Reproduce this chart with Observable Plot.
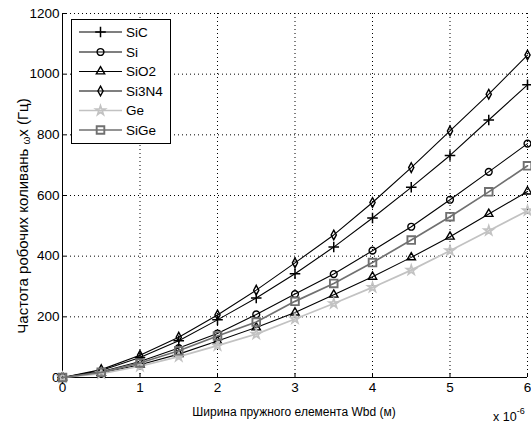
<!DOCTYPE html>
<html><head><meta charset="utf-8">
<script src="https://cdn.jsdelivr.net/npm/d3@7"></script>
<script src="https://cdn.jsdelivr.net/npm/@observablehq/plot@0.6"></script>
<style>body{margin:0;background:#fff} svg{display:block;font-family:"Liberation Sans",Arial,sans-serif}</style>
</head><body><div id="chart"></div>
<script>
// Data (x in units of 1e-6 m)
const widthX = [0, 0.5, 1, 1.5, 2, 2.5, 3, 3.5, 4, 4.5, 5, 5.5, 6];
const freqSiC   = [0, 23, 66, 121, 190, 262, 342, 430, 526, 627, 732, 849, 965];
const freqSi    = [0, 19, 53, 97, 145, 208, 275, 341, 418, 497, 586, 678, 771];
const freqSiO2  = [0, 15, 42, 77, 120, 165, 214, 273, 332, 396, 464, 539, 613];
const freqSi3N4 = [0, 26, 73, 133, 206, 288, 378, 470, 577, 692, 813, 934, 1063];
const freqGe    = [0, 13, 37, 69, 105, 143, 193, 244, 297, 354, 418, 484, 550];
const freqSiGe  = [0, 17, 48, 88, 137, 183, 251, 310, 379, 453, 530, 612, 698];
const seriesNames = ["SiC", "Si", "SiO2", "Si3N4", "Ge", "SiGe"];
const xTicks = [0, 1, 2, 3, 4, 5, 6];
const yTicks = [0, 200, 400, 600, 800, 1000, 1200];
const xTitle = "Ширина пружного елемента Wbd (м)";
const yTitleA = "Частота робочих коливань ";
const yTitleSub = "ω";
const yTitleB = "х (Гц)";

const tallDiamond = {
  draw(ctx, size) {
    const r = Math.sqrt(size / Math.PI);
    const w = r * 0.62, h = r * 1.15;
    ctx.moveTo(0, -h); ctx.lineTo(w, 0); ctx.lineTo(0, h); ctx.lineTo(-w, 0); ctx.closePath();
  }
};

const values = [freqSiC, freqSi, freqSiO2, freqSi3N4, freqGe, freqSiGe];
const styles = [
  {color: "#000", symbol: "plus", r: 3.5, lw: 1.1, mw: 1.5},
  {color: "#000", symbol: "circle", r: 3.4, lw: 1.1, mw: 1.4},
  {color: "#000", symbol: "triangle", r: 3.1, lw: 1.1, mw: 1.4},
  {color: "#000", symbol: tallDiamond, r: 4.2, lw: 1.1, mw: 1.4},
  {color: "#c2c2c2", symbol: "star", r: 2.9, lw: 1.7, mw: 1.7},
  {color: "#707070", symbol: "square", r: 4.3, lw: 1.7, mw: 1.9}
];

const marks = [
  Plot.ruleX(xTicks, {stroke: "#000", strokeDasharray: "1,3", strokeWidth: 1}),
  Plot.ruleY(yTicks, {stroke: "#000", strokeDasharray: "1,3", strokeWidth: 1}),
  Plot.ruleX([0], {stroke: "#000", strokeWidth: 1}),
  Plot.ruleY([0], {stroke: "#000", strokeWidth: 1}),
  Plot.axisX(xTicks, {tickSize: -4, tickPadding: 9, fontSize: 13.5, label: null, stroke: "#000", tickFormat: d => String(d)}),
  Plot.axisY(yTicks, {tickSize: -4, tickPadding: 7, fontSize: 13.5, label: null, stroke: "#000", tickFormat: d => String(d)})
];
seriesNames.forEach((name, i) => {
  const rows = widthX.map((x, j) => ({x, y: values[i][j], name}));
  const s = styles[i];
  marks.push(Plot.line(rows, {x: "x", y: "y", stroke: s.color, strokeWidth: s.lw}));
  marks.push(Plot.dot(rows, {x: "x", y: "y", symbol: () => s.symbol, r: s.r, stroke: s.color, strokeWidth: s.mw, fill: "none"}));
});

const chart = Plot.plot({
  width: 531, height: 423,
  marginLeft: 62, marginRight: 4, marginTop: 13, marginBottom: 46,
  style: {fontFamily: "Liberation Sans, Arial, sans-serif", color: "#000", background: "#fff"},
  x: {domain: [0, 6]},
  y: {domain: [0, 1200]},
  symbol: {type: "identity"},
  marks
});
document.getElementById("chart").append(chart);

const svg = d3.select(chart);
// Axis titles
svg.append("text").attr("x", 294).attr("y", 416).attr("text-anchor", "middle")
  .attr("font-size", 12).attr("fill", "#000").text(xTitle);
const exp = svg.append("text").attr("x", 493).attr("y", 421).attr("text-anchor", "start")
  .attr("font-size", 12.5).attr("fill", "#000");
exp.append("tspan").text("x 10");
exp.append("tspan").attr("dy", -7).attr("font-size", 9).text("-6");
const yt = svg.append("text").attr("transform", "translate(28,216) rotate(-90)")
  .attr("text-anchor", "middle").attr("font-size", 15).attr("fill", "#000");
yt.append("tspan").text(yTitleA);
yt.append("tspan").attr("font-size", 10).attr("dy", 2).text(yTitleSub);
yt.append("tspan").attr("dy", -2).text(yTitleB);

// Legend
const lg = svg.append("g");
lg.append("rect").attr("x", 71.5).attr("y", 19.5).attr("width", 99).attr("height", 124)
  .attr("fill", "#fff").attr("stroke", "#000").attr("stroke-width", 1);
const rowY = [32, 52, 71.5, 91, 110.5, 130];
const symMap = {plus: d3.symbolPlus, circle: d3.symbolCircle, triangle: d3.symbolTriangle, star: d3.symbolStar, square: d3.symbolSquare};
seriesNames.forEach((name, i) => {
  const s = styles[i], y = rowY[i];
  lg.append("line").attr("x1", 79).attr("x2", 122).attr("y1", y).attr("y2", y)
    .attr("stroke", s.color).attr("stroke-width", s.lw);
  const sym = typeof s.symbol === "string" ? symMap[s.symbol] : s.symbol;
  lg.append("path").attr("transform", `translate(100.5,${y})`)
    .attr("d", d3.symbol(sym, s.r * s.r * Math.PI)())
    .attr("fill", "none").attr("stroke", s.color).attr("stroke-width", s.mw);
  lg.append("text").attr("x", 126).attr("y", y).attr("dy", "0.35em").attr("text-anchor", "start")
    .attr("font-size", 13.5).attr("fill", "#000").text(name);
});
</script>
</body></html>
